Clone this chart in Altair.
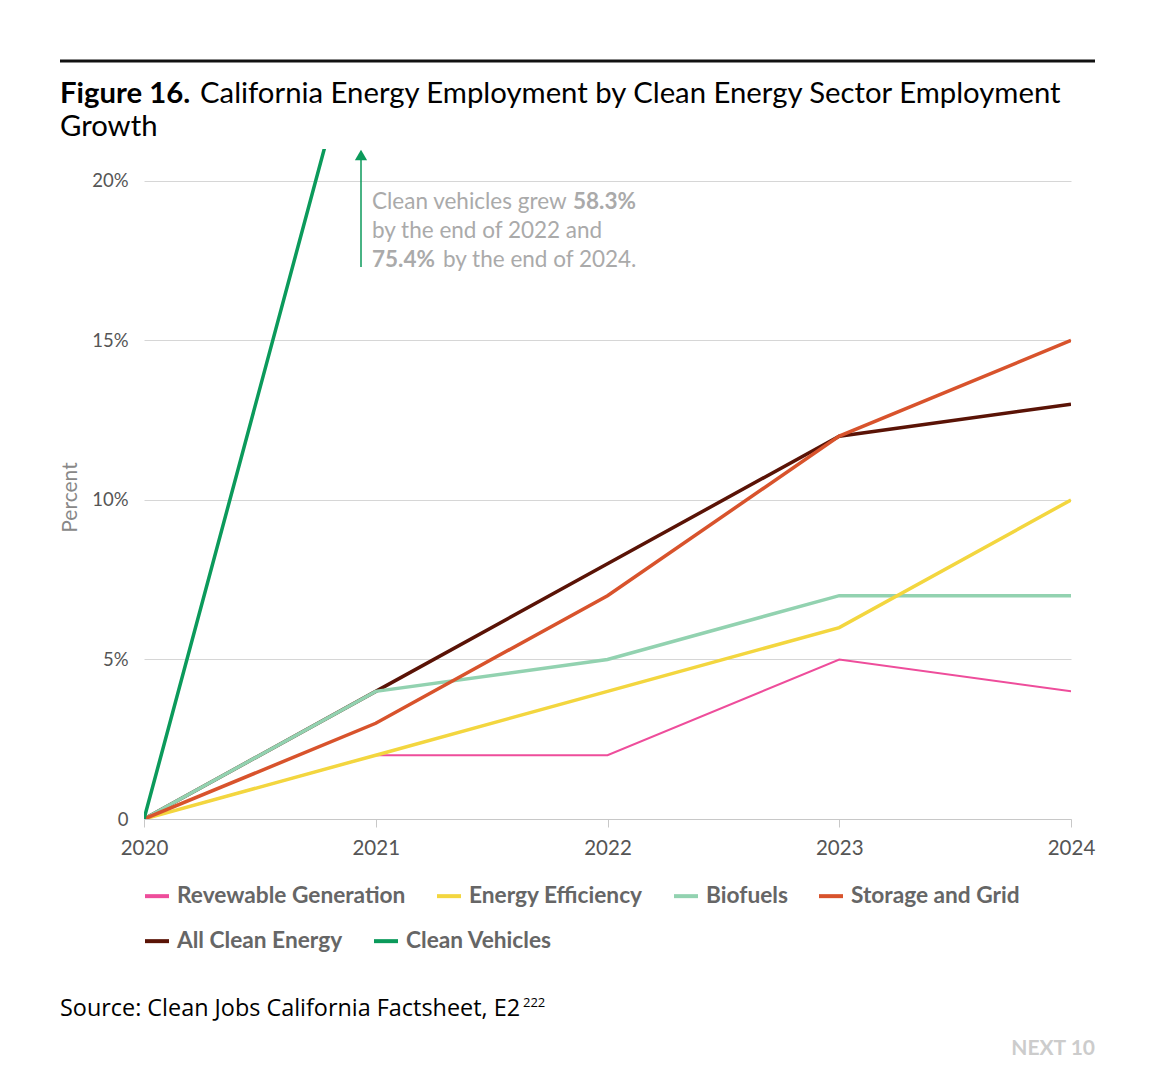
import altair as alt
import pandas as pd

FONT = "Lato"
SRC_FONT = "Open Sans"

years = [2020, 2021, 2022, 2023, 2024]
renewable = [0, 2, 2, 5, 4]
efficiency = [0, 2, 4, 6, 10]
biofuels = [0, 4, 5, 7, 7]
storage = [0, 3, 7, 12, 15]
all_clean = [0, 4, 8, 12, 13]
vehicles = [0, 27, 58.3, 67, 75.4]

legend_row1 = ["Revewable Generation", "Energy Efficiency", "Biofuels", "Storage and Grid"]
colors_row1 = ["#ee4d9b", "#f3d63f", "#92d2b0", "#d8532c"]
legend_row2 = ["All Clean Energy", "Clean Vehicles"]
colors_row2 = ["#5a1306", "#0b9a5b"]
draw_order = ["Revewable Generation", "All Clean Energy", "Biofuels",
              "Energy Efficiency", "Storage and Grid", "Clean Vehicles"]
widths = {"Revewable Generation": 2, "All Clean Energy": 3.5, "Biofuels": 3.5,
          "Energy Efficiency": 3.5, "Storage and Grid": 3.5, "Clean Vehicles": 3.5}

series = {
    "Revewable Generation": renewable,
    "Energy Efficiency": efficiency,
    "Biofuels": biofuels,
    "Storage and Grid": storage,
    "All Clean Energy": all_clean,
    "Clean Vehicles": vehicles,
}
rows = []
for name, vals in series.items():
    for yr, v in zip(years, vals):
        rows.append({"year": yr, "value": v, "series": name})
df = pd.DataFrame(rows)
one = pd.DataFrame({"a": [0]})

x_enc = alt.X("year:Q", scale=alt.Scale(domain=[2020, 2024], nice=False),
              axis=alt.Axis(values=years, format="d", title=None, grid=False,
                            domainColor="#c8c8c8", tickColor="#c8c8c8", tickSize=8,
                            labelFont=FONT, labelFontSize=20.5, labelColor="#555555",
                            labelPadding=11, labelFlush=False))
y_enc = alt.Y("value:Q", scale=alt.Scale(domain=[0, 21], nice=False, zero=True),
              axis=alt.Axis(values=[0, 5, 10, 15, 20], title="Percent",
                            labelExpr="datum.value == 0 ? '0' : datum.value + '%'",
                            domain=False, ticks=False, gridColor="#d6d6d6",
                            labelFont=FONT, labelFontSize=18.5, labelColor="#555555",
                            labelPadding=16, titleFont=FONT, titleFontSize=21,
                            titleFontWeight="normal", titleColor="#888888",
                            titleX=-74, titleY=348, titleAngle=-90,
                            titleAlign="center", titleBaseline="middle"))

legend_common = dict(orient="none", legendX=-1, direction="horizontal", title=None,
                     symbolType="stroke", symbolStrokeWidth=4, symbolSize=576,
                     labelFont=FONT, labelFontSize=22.7, labelFontWeight="bold",
                     labelColor="#666666", columnPadding=23, labelOffset=6,
                     labelLimit=400)
color_enc = alt.Color("series:N", scale=alt.Scale(domain=legend_row1, range=colors_row1),
                      legend=alt.Legend(legendY=733, **legend_common))
stroke_enc = alt.Stroke("series:N", scale=alt.Scale(domain=legend_row2, range=colors_row2),
                        legend=alt.Legend(legendY=778, **legend_common))

base = alt.Chart(df).encode(x=x_enc, y=y_enc)
line_layers = []
for s in draw_order:
    if s in legend_row1:
        layer = base.transform_filter(alt.datum.series == s).mark_line(
            strokeWidth=widths[s], clip=True).encode(color=color_enc)
    else:
        layer = base.transform_filter(alt.datum.series == s).mark_line(
            strokeWidth=widths[s], clip=True).encode(stroke=stroke_enc)
    line_layers.append(layer)


def txt(text, x, y, size, weight="normal", color="#000000", align="left", font=FONT):
    return alt.Chart(one).mark_text(text=text, align=align, baseline="alphabetic",
                                    font=font, fontSize=size, fontWeight=weight,
                                    color=color).encode(x=alt.value(x), y=alt.value(y))


green = "#0b9a5b"
gray = "#aaaaaa"
top_rule = alt.Chart(one).mark_rule(color="#111111", strokeWidth=3).encode(
    x=alt.value(-84), x2=alt.value(951), y=alt.value(-88))
arrow_line = alt.Chart(one).mark_rule(color=green, strokeWidth=1.5).encode(
    x=alt.value(217), y=alt.value(118), y2=alt.value(10))
arrow_head = alt.Chart(one).mark_point(shape="triangle-up", filled=True, size=150,
                                       color=green, opacity=1).encode(
    x=alt.value(217), y=alt.value(6))

texts = [
    txt("Figure 16.", -84, -46, 29.3, "bold"),
    txt("California Energy Employment by Clean Energy Sector Employment", 56, -46, 29.3),
    txt("Growth", -84, -13, 29.3),
    txt("Clean vehicles grew", 228, 60, 22.5, color=gray),
    txt("58.3%", 429, 60, 22.5, "bold", gray),
    txt("by the end of 2022 and", 228, 89, 22.5, color=gray),
    txt("75.4%", 228, 118, 22.5, "bold", gray),
    txt("by the end of 2024.", 299, 118, 22.5, color=gray),
    txt("Source: Clean Jobs California Factsheet, E2", -84, 867, 23.4, font=SRC_FONT),
    txt("222", 379, 858, 13, font=SRC_FONT),
    txt("NEXT 10", 951, 906, 21, "bold", "#cccccc", "right"),
]

chart = alt.layer(top_rule, *line_layers, arrow_line, arrow_head, *texts).properties(
    width=927, height=670,
    autosize=alt.AutoSizeParams(type="none"),
    padding={"left": 136, "top": 141, "right": 77, "bottom": 250},
).resolve_scale(color="shared", stroke="shared").configure(font=FONT).configure_view(stroke=None)

chart.save("out.html", embed_options={"renderer": "svg", "actions": False})
